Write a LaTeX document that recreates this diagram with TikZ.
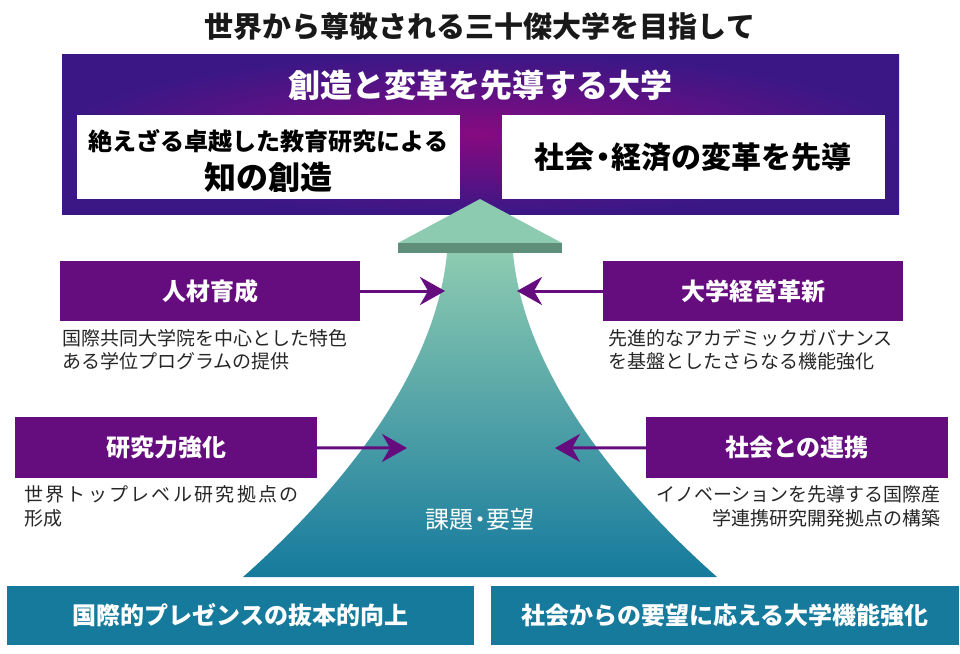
\documentclass[tikz,border=0pt]{standalone}
\usepackage{fontspec}
\newfontfamily\jp{Noto Sans CJK JP}
\newfontfamily\jpwide[LetterSpace=12]{Noto Sans CJK JP}
\usetikzlibrary{arrows.meta}
\definecolor{kpurple}{HTML}{650C7E}
\definecolor{kindigo}{HTML}{3B1786}
\definecolor{kmagenta}{HTML}{870A80}
\definecolor{kteal}{HTML}{167A9D}
\definecolor{kmint}{HTML}{8DCBB1}
\definecolor{kshadow}{HTML}{5F8F7A}
\newcommand{\kdot}{\hspace{-0.22em}・\hspace{-0.22em}}

\begin{document}
\begin{tikzpicture}[x=1pt,y=-1pt,
    pbox/.style={fill=kpurple,text=white,minimum width=300pt,minimum height=60pt,inner sep=0pt,font=\jp\bfseries\fontsize{24}{28}\selectfont},
    tbox/.style={fill=kteal,text=white,minimum width=467pt,minimum height=59pt,inner sep=0pt,font=\jp\bfseries\fontsize{24}{28}\selectfont},
    wbox/.style={fill=white,minimum width=383pt,minimum height=84pt,inner sep=0pt},
    wtext/.style={text=black,align=center,inner sep=0pt,font=\jp\bfseries},
    desc/.style={inner sep=0pt,text=black!85,font=\jp\fontsize{19}{23}\selectfont},
    link/.style={draw=kpurple,line width=3pt,-{Stealth[length=25pt,width=28pt,inset=8pt]}}]
    \useasboundingbox (0,0) rectangle (960,653);
    \begin{scope}
      \node (goal) [text=black!90,font=\jp\bfseries\fontsize{29}{33}\selectfont] at (480,26) {世界から尊敬される三十傑大学を目指して};
      \node (univ) [inner color=kmagenta,outer color=kindigo,minimum width=837pt,minimum height=160pt,inner sep=0pt] at (480.5,134) {};
      \node (motto) [text=white,font=\jp\bfseries\fontsize{32}{36}\selectfont] at (480,85) {創造と変革を先導する大学};
      \node (wl) [wbox] at (268.5,157) {};
      \node (wr) [wbox] at (693,157) {};
      \node (wltop) [wtext,font=\jp\bfseries\fontsize{24}{28}\selectfont] at (268.5,141) {絶えざる卓越した教育研究による};
      \node (wlbig) [wtext,font=\jp\bfseries\fontsize{32}{36}\selectfont] at (268.5,177) {知の創造};
      \node (wrtext) [wtext,font=\jp\bfseries\fontsize{30}{34}\selectfont] at (wr.center) {社会\kdot 経済の変革を先導};
    \end{scope}

    \fill[kmint] (480,199) -- (562,243) -- (398,243) -- cycle;
    \fill[kshadow] (398,243) rectangle (562,253);
    \shade[top color=kmint,bottom color=kteal] (447,253) .. controls (435,380) and (330,500) .. (243,577)
      -- (717,577) .. controls (630,500) and (525,380) .. (513,253) -- cycle;
    \node (task) [text=white,font=\jp\fontsize{24}{28}\selectfont] at (480,519) {課題\kdot 要望};

    \node (hr) [pbox] at (210,291) {人材育成};
    \node (mg) [pbox] at (753,291) {大学経営革新};
    \node (rs) [pbox,minimum width=302pt,minimum height=61pt] at (166,447.5) {研究力強化};
    \node (sc) [pbox,minimum width=302pt,minimum height=61pt] at (797,447.5) {社会との連携};
    \coordinate (hrtip) at (445,291);
    \coordinate (mgtip) at (517,291);
    \coordinate (rstip) at (407,448);
    \coordinate (sctip) at (555,448);
    \draw[link] (hr) -- (hrtip);
    \draw[link] (mg) -- (mgtip);
    \draw[link] (rs) -- (rstip);
    \draw[link] (sc) -- (sctip);

    \node (hrtext) [desc,anchor=west,align=left] at (62,349.5) {国際共同大学院を中心とした特色\\ある学位プログラムの提供};
    \node (mgtext) [desc,anchor=west,align=left] at (608,349.5) {先進的なアカデミックガバナンス\\を基盤としたさらなる機能強化};
    \node (rstext) [desc,anchor=west,align=left,font=\jp\fontsize{19}{24}\selectfont] at (24,506) {{\jpwide 世界トップレベル研究拠点の}\\形成};
    \node (sctext) [desc,anchor=east,align=right,font=\jp\fontsize{19}{24}\selectfont] at (941,506) {イノベーションを先導する国際産\\学連携研究開発拠点の構築};

    \node (intl) [tbox] at (240.5,615.5) {国際的プレゼンスの抜本的向上};
    \node (need) [tbox,minimum width=468pt] at (725,615.5) {社会からの要望に応える大学機能強化};
  \end{tikzpicture}
\end{document}
